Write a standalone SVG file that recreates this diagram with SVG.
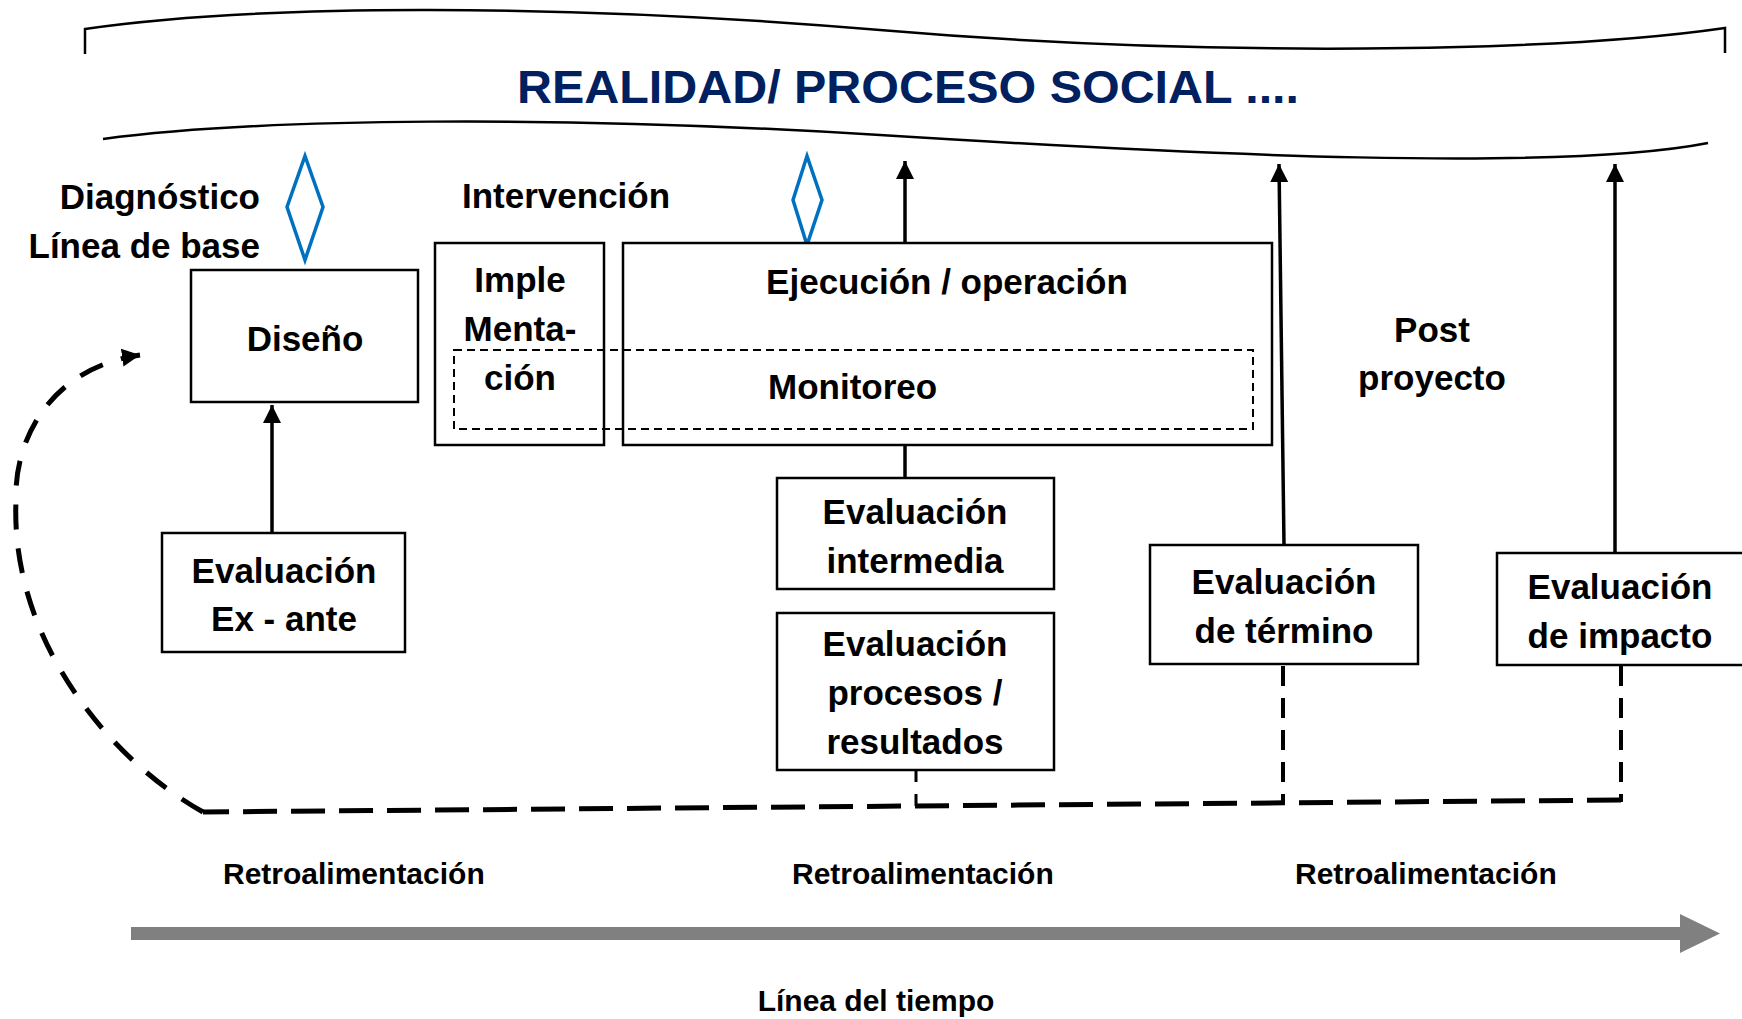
<svg xmlns="http://www.w3.org/2000/svg" width="1742" height="1019" viewBox="0 0 1742 1019">
<style>
.box{fill:#fff;stroke:#000;stroke-width:2.5}
.t{font-family:"Liberation Sans",Arial,sans-serif;font-weight:bold;font-size:35px;fill:#000;text-anchor:middle}
.s{font-family:"Liberation Sans",Arial,sans-serif;font-weight:bold;font-size:30px;fill:#000}
.dia{fill:none;stroke:#0070c0;stroke-width:3.5}
.ar{fill:none;stroke:#000;stroke-width:3.5}
.wave{fill:none;stroke:#000;stroke-width:2.5}
</style>
<defs>
<marker id="ah" markerUnits="userSpaceOnUse" markerWidth="20" markerHeight="20" refX="18" refY="9" orient="auto">
<path d="M0,0 L18,9 L0,18 z" fill="#000"/>
</marker>
</defs>
<g id="realidad">
<path class="wave" d="M85,54 L85,29 C250,5 550,2 880,30 C1210,58 1560,52 1725,28 L1725,53"/>
<path class="wave" d="M103,139 C260,118 560,115 880,135 C1200,155 1560,172 1708,143"/>
<text x="517" y="103" textLength="782" lengthAdjust="spacingAndGlyphs" style="font-family:'Liberation Sans',Arial,sans-serif;font-weight:bold;font-size:46px;fill:#002060">REALIDAD/ PROCESO SOCIAL ....</text>
</g>
<g id="labels">
<text class="t" x="260" y="209" style="text-anchor:end">Diagnóstico</text>
<text class="t" x="260" y="258" style="text-anchor:end">Línea de base</text>
<text class="t" x="462" y="208" style="text-anchor:start">Intervención</text>
<text class="t" x="1432" y="342">Post</text>
<text class="t" x="1432" y="390">proyecto</text>
</g>
<g id="diamond1"><polygon class="dia" points="305,156 323,207 305,260 287,207"/></g>
<g id="diamond2"><polygon class="dia" points="807,156 822,200 807,245 793,200"/></g>
<g id="diseno">
<rect class="box" x="191" y="270" width="227" height="132"/>
<text class="t" x="305" y="351">Diseño</text>
</g>
<g id="exante">
<rect class="box" x="162" y="533" width="243" height="119"/>
<text class="t" x="284" y="583">Evaluación</text>
<text class="t" x="284" y="631">Ex - ante</text>
</g>
<g id="implementacion">
<rect class="box" x="435" y="243" width="169" height="202"/>
<text class="t" x="520" y="292">Imple</text>
<text class="t" x="520" y="341">Menta-</text>
<text class="t" x="520" y="390">ción</text>
</g>
<g id="ejecucion">
<rect class="box" x="623" y="243" width="649" height="202"/>
<text class="t" x="947" y="294">Ejecución / operación</text>
</g>
<g id="monitoreo">
<rect x="454" y="350" width="799" height="79" fill="none" stroke="#000" stroke-width="2" stroke-dasharray="8 5"/>
<text class="t" x="768" y="399" style="text-anchor:start">Monitoreo</text>
</g>
<g id="intermedia">
<rect class="box" x="777" y="478" width="277" height="111"/>
<text class="t" x="915" y="524">Evaluación</text>
<text class="t" x="915" y="573">intermedia</text>
</g>
<g id="procesos">
<rect class="box" x="777" y="613" width="277" height="157"/>
<text class="t" x="915" y="656">Evaluación</text>
<text class="t" x="915" y="705">procesos /</text>
<text class="t" x="915" y="754">resultados</text>
</g>
<g id="termino">
<rect class="box" x="1150" y="545" width="268" height="119"/>
<text class="t" x="1284" y="594">Evaluación</text>
<text class="t" x="1284" y="643">de término</text>
</g>
<g id="impacto">
<rect class="box" x="1497" y="553" width="250" height="112"/>
<text class="t" x="1620" y="599">Evaluación</text>
<text class="t" x="1620" y="648">de impacto</text>
</g>
<g id="connectors">
<path class="ar" d="M272,533 L272,405" marker-end="url(#ah)"/>
<path class="ar" d="M905,243 L905,161" marker-end="url(#ah)"/>
<path class="ar" d="M1284,545 L1279,164" marker-end="url(#ah)"/>
<path class="ar" d="M1615,553 L1615,164" marker-end="url(#ah)"/>
<path class="ar" d="M905,445 L905,478"/>
<path d="M916,770 L916,807" fill="none" stroke="#000" stroke-width="3" stroke-dasharray="12 12"/>
<path d="M1283,666 L1283,803" fill="none" stroke="#000" stroke-width="4" stroke-dasharray="20 12"/>
<path d="M1621,666 L1621,802" fill="none" stroke="#000" stroke-width="4" stroke-dasharray="20 12"/>
<path d="M1621,800 L203,812" fill="none" stroke="#000" stroke-width="5" stroke-dasharray="34 14"/>
<path d="M203,812 C110,760 10,640 16,500 C14,440 50,368 140,355" fill="none" stroke="#000" stroke-width="5" stroke-dasharray="25 19" marker-end="url(#ah)"/>
</g>
<g id="timeline">
<polygon points="131,927 1680,927 1680,914 1720,933.5 1680,953 1680,940 131,940" fill="#808080"/>
<text class="s" x="223" y="884">Retroalimentación</text>
<text class="s" x="792" y="884">Retroalimentación</text>
<text class="s" x="1295" y="884">Retroalimentación</text>
<text class="s" x="876" y="1011" style="text-anchor:middle">Línea del tiempo</text>
</g>
</svg>
